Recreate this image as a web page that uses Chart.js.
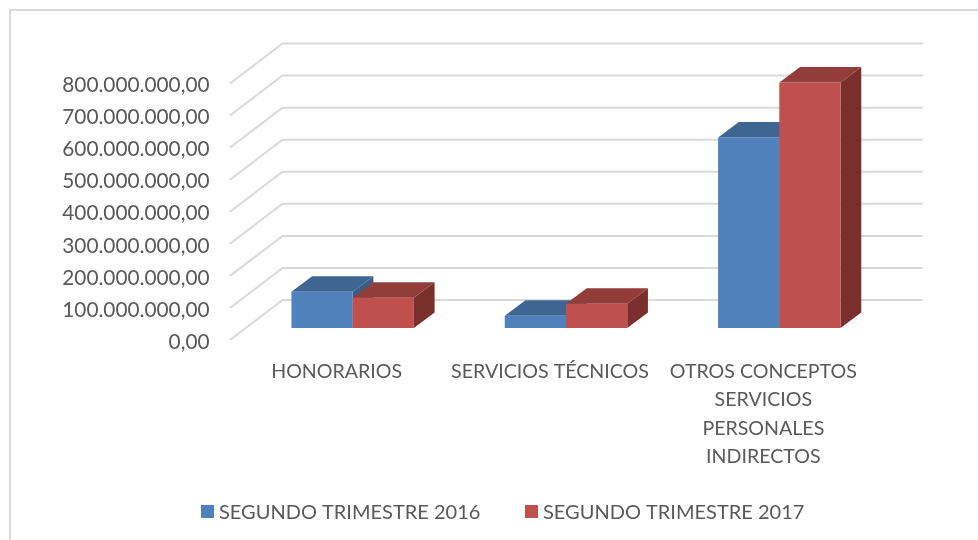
<!DOCTYPE html>
<html><head><meta charset="utf-8">
<style>html,body{margin:0;padding:0;background:#fff;overflow:hidden}canvas{display:block}</style>
<script src="https://cdn.jsdelivr.net/npm/chart.js@4"></script></head>
<body><canvas id="c" width="978" height="540"></canvas>
<script>
const categories = ["HONORARIOS", "SERVICIOS TÉCNICOS", ["OTROS CONCEPTOS", "SERVICIOS", "PERSONALES", "INDIRECTOS"]];
const seriesNames = ["SEGUNDO TRIMESTRE 2016", "SEGUNDO TRIMESTRE 2017"];
const values2016 = [113000000, 38000000, 594000000];
const values2017 = [94000000, 76000000, 766000000];
const yTickLabels = ["0,00", "100.000.000,00", "200.000.000,00", "300.000.000,00", "400.000.000,00", "500.000.000,00", "600.000.000,00", "700.000.000,00", "800.000.000,00"];

const FONT = "Lato";
const TEXT = "#595959";
const GRID = "#d9d9d9";
const FRONT = ["#4f81bd", "#c0504d"];
const TOP = ["#3f6592", "#933d3a"];
const SIDE = ["#385d8a", "#7a2f2d"];
const WALL = {dx: 52.5, dy: 40};
const BAR_SHIFT = {dx: 16, dy: -12};
const BAR_DEPTH = {dx: 20.7, dy: 15.5};

function poly(ctx, pts, color) {
  ctx.fillStyle = color;
  ctx.beginPath();
  pts.forEach((p, i) => i ? ctx.lineTo(p[0], p[1]) : ctx.moveTo(p[0], p[1]));
  ctx.closePath();
  ctx.fill();
}

const frame = {
  id: "frame",
  beforeDraw(chart) {
    const ctx = chart.ctx;
    ctx.save();
    ctx.strokeStyle = GRID;
    ctx.lineWidth = 2;
    ctx.strokeRect(10, 10, 1000, 1000);
    ctx.restore();
  }
};

const walls = {
  id: "walls",
  beforeDatasetsDraw(chart) {
    const {ctx, chartArea: a, scales: {y}} = chart;
    ctx.save();
    ctx.strokeStyle = GRID;
    ctx.lineWidth = 2;
    y.ticks.forEach(t => {
      const py = y.getPixelForValue(t.value);
      ctx.beginPath();
      ctx.moveTo(a.left, py);
      ctx.lineTo(a.left + WALL.dx, py - WALL.dy);
      ctx.lineTo(a.right + WALL.dx, py - WALL.dy);
      ctx.stroke();
    });
    ctx.restore();
  },
  // Chart.js paints later datasets first; the 3D stack needs the opposite, so the bars are painted here.
  beforeDatasetDraw() { return false; },
  afterDatasetsDraw(chart) {
    const ctx = chart.ctx;
    ctx.save();
    ctx.translate(BAR_SHIFT.dx, BAR_SHIFT.dy);
    chart.data.datasets.forEach((d, i) => {
      chart.getDatasetMeta(i).data.forEach(b => {
        const l = b.x - b.width / 2, r = b.x + b.width / 2, t = b.y, bot = b.base;
        const dx = BAR_DEPTH.dx, dy = BAR_DEPTH.dy;
        poly(ctx, [[r, t], [r + dx, t - dy], [r + dx, bot - dy], [r, bot]], SIDE[i]);
        poly(ctx, [[l, t], [l + dx, t - dy], [r + dx, t - dy], [r, t]], TOP[i]);
        b.draw(ctx);
      });
    });
    ctx.restore();
  }
};

const legendMarks = {
  id: "legendMarks",
  afterDraw(chart) {
    const ctx = chart.ctx;
    const starts = [201, 525];
    ctx.save();
    ctx.font = "20px " + FONT;
    ctx.textBaseline = "middle";
    ctx.textAlign = "left";
    chart.data.datasets.forEach((d, i) => {
      ctx.fillStyle = d.backgroundColor;
      ctx.fillRect(starts[i], 505, 13, 13);
      ctx.fillStyle = TEXT;
      ctx.fillText(d.label, starts[i] + 18, 512.5);
    });
    ctx.restore();
  }
};

new Chart(document.getElementById("c"), {
  type: "bar",
  data: {
    labels: categories,
    datasets: [
      {label: seriesNames[0], data: values2016, backgroundColor: FRONT[0]},
      {label: seriesNames[1], data: values2017, backgroundColor: FRONT[1]}
    ]
  },
  options: {
    responsive: false,
    animation: false,
    categoryPercentage: 0.574,
    barPercentage: 1,
    layout: {padding: {top: 83.5, right: 108, left: 0, bottom: 0}},
    plugins: {legend: {display: false}, tooltip: {enabled: false}},
    scales: {
      x: {
        grid: {display: false, drawTicks: false},
        border: {display: false},
        afterFit(s) { s.height = 200; },
        ticks: {
          color: TEXT, maxRotation: 0, minRotation: 0, autoSkip: false, padding: 17,
          font: {family: FONT, size: 19.6, lineHeight: "28.6px"}
        }
      },
      y: {
        min: 0, max: 800000000,
        grid: {display: false, drawTicks: false},
        border: {display: false},
        afterFit(s) { s.width = 230; },
        ticks: {
          stepSize: 100000000, color: TEXT, padding: 20.5, labelOffset: 2,
          font: {family: FONT, size: 20.8},
          callback: (v) => yTickLabels[Math.round(v / 100000000)]
        }
      }
    }
  },
  plugins: [frame, walls, legendMarks]
});
</script></body></html>
